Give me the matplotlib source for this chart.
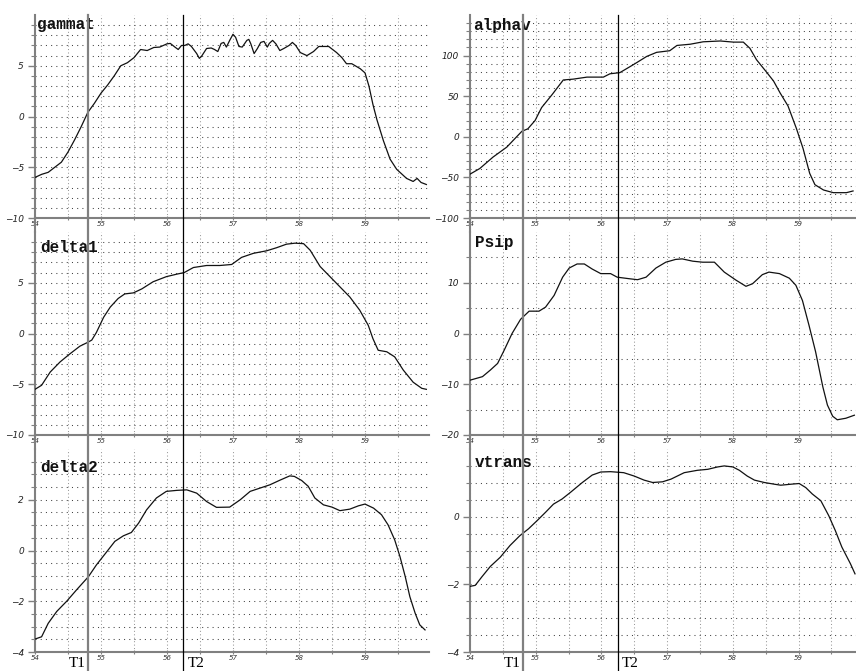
import numpy as np
import matplotlib
matplotlib.use("Agg")
import matplotlib.pyplot as plt
from matplotlib.lines import Line2D
from matplotlib.transforms import blended_transform_factory, offset_copy

# ---------------- data ----------------
gammat_x = [54.00, 54.10, 54.20, 54.30, 54.40, 54.50, 54.60, 54.70, 54.80, 54.90,
            55.00, 55.10, 55.20, 55.30, 55.40, 55.50, 55.60, 55.70, 55.80, 55.89,
            56.00, 56.05, 56.12, 56.17, 56.22, 56.27, 56.32, 56.37, 56.45, 56.49,
            56.52, 56.60, 56.67, 56.72, 56.77, 56.82, 56.86, 56.90, 56.95, 57.00,
            57.04, 57.09, 57.14, 57.21, 57.24, 57.27, 57.32, 57.37, 57.42, 57.47,
            57.52, 57.55, 57.60, 57.65, 57.71, 57.77, 57.85, 57.90, 57.95, 58.02,
            58.12, 58.22, 58.30, 58.45, 58.57, 58.65, 58.72, 58.80, 58.93, 59.00,
            59.06, 59.12, 59.18, 59.28, 59.38, 59.48, 59.63, 59.73, 59.79, 59.85, 59.93]
gammat_y = [-6.0, -5.7, -5.5, -5.0, -4.5, -3.5, -2.3, -1.0, 0.4, 1.3,
            2.3, 3.1, 4.0, 5.0, 5.3, 5.8, 6.6, 6.5, 6.8, 6.84,
            7.16, 7.2, 6.84, 6.6, 7.0, 7.0, 7.16, 6.9, 6.2, 5.73,
            5.9, 6.7, 6.75, 6.6, 6.4, 7.2, 7.3, 6.84, 7.5, 8.1,
            7.8, 6.9, 6.84, 7.5, 7.6, 7.16, 6.2, 6.7, 7.3, 7.4,
            6.84, 7.2, 7.5, 7.16, 6.5, 6.7, 7.0, 7.3, 7.0, 6.3,
            6.0, 6.4, 6.9, 6.9, 6.3, 5.8, 5.2, 5.2, 4.7, 4.3,
            3.0, 1.2, -0.3, -2.4, -4.2, -5.2, -6.1, -6.4, -6.1, -6.5, -6.7]

alphav_x = [54.00, 54.15, 54.35, 54.56, 54.68, 54.79, 54.88, 54.99, 55.09, 55.25,
            55.42, 55.57, 55.78, 56.03, 56.13, 56.28, 56.49, 56.69, 56.84, 57.04,
            57.15, 57.35, 57.55, 57.81, 58.01, 58.16, 58.26, 58.36, 58.51, 58.62,
            58.72, 58.84, 58.97, 59.07, 59.17, 59.25, 59.38, 59.53, 59.73, 59.83]
alphav_y = [-46, -39, -25, -12.7, -2.5, 6.8, 9.8, 20, 36, 52,
            70, 71, 73.5, 73.5, 77.6, 79, 89, 99, 104, 106,
            112.5, 114, 117, 118, 116.6, 116.6, 109, 95, 80, 68.7,
            54, 38, 9.8, -14.6, -45, -59, -65.5, -68.8, -68.8, -66.7]

delta1_x = [54.00, 54.10, 54.23, 54.38, 54.53, 54.68, 54.79, 54.86, 54.93, 55.04,
            55.14, 55.26, 55.36, 55.49, 55.62, 55.79, 55.99, 56.15, 56.26, 56.40,
            56.60, 56.80, 56.98, 57.13, 57.31, 57.51, 57.66, 57.81, 57.94, 58.07,
            58.17, 58.32, 58.47, 58.62, 58.77, 58.92, 59.05, 59.12, 59.20, 59.33,
            59.45, 59.58, 59.73, 59.86, 59.93]
delta1_y = [-5.5, -5.1, -3.8, -2.8, -2.0, -1.25, -0.9, -0.65, 0.1, 1.6,
            2.6, 3.45, 3.9, 4.0, 4.4, 5.1, 5.6, 5.85, 6.0, 6.5,
            6.7, 6.7, 6.8, 7.5, 7.9, 8.15, 8.45, 8.8, 8.9, 8.85,
            8.2, 6.6, 5.6, 4.6, 3.6, 2.3, 0.8, -0.5, -1.65, -1.8,
            -2.3, -3.6, -4.8, -5.4, -5.5]

psip_x = [54.00, 54.19, 54.31, 54.42, 54.52, 54.64, 54.77, 54.90, 55.05, 55.15,
          55.28, 55.41, 55.51, 55.63, 55.74, 55.86, 55.99, 56.14, 56.24, 56.42,
          56.55, 56.68, 56.83, 56.98, 57.13, 57.23, 57.39, 57.54, 57.72, 57.87,
          58.05, 58.20, 58.30, 58.45, 58.55, 58.71, 58.86, 58.96, 59.06, 59.16,
          59.26, 59.37, 59.44, 59.52, 59.59, 59.72, 59.85]
psip_y = [-9.2, -8.5, -7.2, -5.9, -3.3, 0.0, 2.8, 4.4, 4.4, 5.2,
          7.5, 11.1, 12.9, 13.7, 13.7, 12.7, 11.8, 11.8, 11.1, 10.8,
          10.6, 11.1, 12.9, 14.05, 14.6, 14.7, 14.25, 14.05, 14.05, 12.1,
          10.5, 9.3, 9.8, 11.6, 12.1, 11.8, 10.9, 9.5, 6.5, 1.6,
          -3.6, -10.5, -14.1, -16.3, -17.0, -16.7, -16.1]

delta2_x = [54.00, 54.10, 54.20, 54.33, 54.48, 54.63, 54.81, 54.93, 55.09, 55.21,
            55.34, 55.46, 55.57, 55.69, 55.84, 55.99, 56.15, 56.30, 56.45, 56.60,
            56.75, 56.95, 57.11, 57.26, 57.41, 57.56, 57.71, 57.86, 57.93, 58.04,
            58.14, 58.24, 58.37, 58.50, 58.62, 58.77, 58.90, 59.00, 59.13, 59.25,
            59.35, 59.45, 59.53, 59.61, 59.68, 59.76, 59.83, 59.91]
delta2_y = [-3.49, -3.4, -2.87, -2.4, -2.0, -1.55, -1.03, -0.57, -0.04, 0.36,
            0.58, 0.71, 1.08, 1.6, 2.07, 2.33, 2.37, 2.39, 2.26, 1.93,
            1.7, 1.71, 2.0, 2.33, 2.46, 2.59, 2.77, 2.94, 2.92, 2.76,
            2.53, 2.07, 1.8, 1.71, 1.57, 1.63, 1.76, 1.83, 1.67, 1.41,
            1.01, 0.42, -0.24, -1.03, -1.82, -2.47, -2.93, -3.13]

vtrans_x = [54.00, 54.08, 54.18, 54.31, 54.46, 54.61, 54.76, 54.89, 55.02, 55.15,
            55.27, 55.40, 55.53, 55.71, 55.86, 55.99, 56.14, 56.34, 56.50, 56.65,
            56.78, 56.93, 57.06, 57.26, 57.46, 57.62, 57.77, 57.87, 58.00, 58.10,
            58.22, 58.33, 58.48, 58.63, 58.73, 58.89, 59.01, 59.11, 59.21, 59.34,
            59.46, 59.56, 59.66, 59.79, 59.86]
vtrans_y = [-2.06, -2.03, -1.78, -1.47, -1.2, -0.85, -0.56, -0.36, -0.12, 0.13,
            0.37, 0.52, 0.72, 1.01, 1.23, 1.32, 1.33, 1.3, 1.2, 1.08,
            1.01, 1.03, 1.11, 1.3, 1.37, 1.4, 1.47, 1.5, 1.47, 1.37,
            1.2, 1.08, 1.01, 0.96, 0.93, 0.96, 0.98, 0.86, 0.67, 0.47,
            0.03, -0.41, -0.9, -1.39, -1.69]

T1 = 54.81
T2 = 56.25

x_major = [54, 55, 56, 57, 58, 59]
x_minor = [54.5, 55.5, 56.5, 57.5, 58.5, 59.5]

# name, x, y, ylim, major y ticks, minor step
panels = [
    ("gammat", gammat_x, gammat_y, (-10, 10), [-10, -5, 0, 5], 1.0),
    ("alphav", alphav_x, alphav_y, (-100, 150), [-100, -50, 0, 50, 100], 10.0),
    ("delta1", delta1_x, delta1_y, (-10, 10), [-10, -5, 0, 5], 1.0),
    ("Psip", psip_x, psip_y, (-20, 20), [-20, -10, 0, 10], 5.0),
    ("delta2", delta2_x, delta2_y, (-4, 4), [-4, -2, 0, 2], 0.5),
    ("vtrans", vtrans_x, vtrans_y, (-4, 2), [-4, -2, 0], 0.5),
]

# ---------------- layout (pixels) ----------------
W, H = 856, 671
col_px = [(35, 429), (470, 856)]
col_xmax = [59.97, 59.875]
row_top = [15, 232, 449]
row_h = 203
title_off = [(2, 2), (3, 3), (5, 8), (5, 3), (5, 11), (5, 6)]
axis_col = "#808080"

fig = plt.figure(figsize=(W / 100, H / 100), dpi=100)
fig.patch.set_facecolor("white")

axes = {}
for i, (name, xs, ys, ylim, yticks, ystep) in enumerate(panels):
    r, c = divmod(i, 2)
    x0, x1 = col_px[c]
    top = row_top[r]
    ax = fig.add_axes([x0 / W, 1 - (top + row_h) / H, (x1 - x0) / W, row_h / H])
    axes[(r, c)] = ax
    ax.plot(xs, ys, color="#111111", lw=0.9, zorder=3)
    ax.set_xlim(54, col_xmax[c])
    ax.set_ylim(*ylim)
    for s in ("top", "right"):
        ax.spines[s].set_visible(False)
    for s in ("left", "bottom"):
        ax.spines[s].set_color(axis_col)
        ax.spines[s].set_linewidth(1.5)
    ax.set_xticks(x_major)
    ax.set_xticks(x_minor, minor=True)
    ax.set_yticks(yticks)
    ax.set_yticks(np.arange(ylim[0], ylim[1] - 1e-9, ystep), minor=True)
    ax.tick_params(axis="y", which="major", length=5, width=1, color=axis_col,
                   labelsize=6.5, pad=3, labelcolor="#222222")
    ax.tick_params(axis="y", which="minor", length=3, width=0.8, color=axis_col)
    ax.tick_params(axis="x", which="both", length=3, width=0.8, color=axis_col,
                   direction="inout", labelsize=5, pad=1, labelcolor="#333333")
    for lab in ax.get_yticklabels() + ax.get_xticklabels():
        lab.set_fontstyle("italic")
    ax.yaxis.grid(True, which="both", linestyle=(0, (1, 4)), color="#444444", lw=0.75)
    ax.xaxis.grid(True, which="both", linestyle=(0, (1, 2.3)), color="#999999", lw=0.75)
    ax.set_axisbelow(True)
    dx, dy = title_off[i]
    ax.text(0, 1, name, transform=offset_copy(ax.transAxes, fig=fig, x=dx, y=-dy, units="dots"),
            ha="left", va="top", fontsize=11.5, fontweight="bold",
            family="Liberation Mono", color="#111111", zorder=5)
    if r > 0:
        ax.plot([0, 0], [1, 1 + (row_top[r] - (row_top[r - 1] + row_h)) / row_h],
                transform=ax.transAxes, clip_on=False, color=axis_col, lw=1.5)

# T1 / T2 marker lines across each column
for c in range(2):
    ax = axes[(2, c)]
    trans = blended_transform_factory(ax.transData, fig.transFigure)
    fig.add_artist(Line2D([T1, T1], [0, 1 - row_top[0] / H], transform=trans,
                          color="#808080", lw=1.6))
    fig.add_artist(Line2D([T2, T2], [0, 1 - row_top[0] / H], transform=trans,
                          color="#000000", lw=0.9))
    fig.text(T1, 4 / H, "T1", transform=offset_copy(trans, fig=fig, x=-3, y=0, units="dots"),
             ha="right", va="baseline", fontsize=11, family="Liberation Serif")
    fig.text(T2, 4 / H, "T2", transform=offset_copy(trans, fig=fig, x=4, y=0, units="dots"),
             ha="left", va="baseline", fontsize=11, family="Liberation Serif")

fig.savefig("out.png", dpi=100, facecolor="white")
